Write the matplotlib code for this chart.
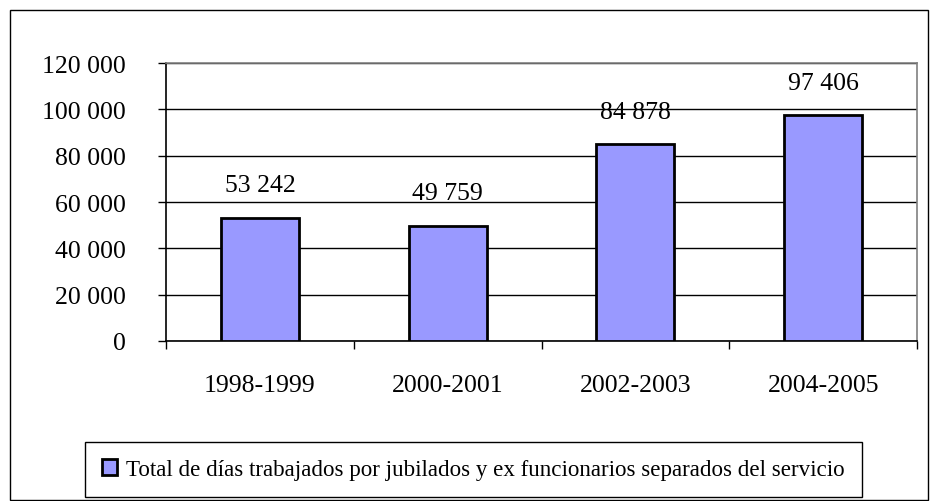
import matplotlib
matplotlib.use('Agg')
import matplotlib.pyplot as plt
from matplotlib.patches import Rectangle, Patch
from matplotlib.ticker import FuncFormatter

periods = ['1998-1999', '2000-2001', '2002-2003', '2004-2005']
days_worked = [53242, 49759, 84878, 97406]
series_label = 'Total de días trabajados por jubilados y ex funcionarios separados del servicio'
y_ticks = [0, 20000, 40000, 60000, 80000, 100000, 120000]

bar_color = '#9999FF'

plt.rcParams['font.family'] = ['Liberation Serif', 'DejaVu Serif']

W, H = 930, 502
fig = plt.figure(figsize=(W / 100, H / 100), dpi=100)

# chart outer border
fig.patches.append(Rectangle((10 / W, 1 / H), 918 / W, 490 / H, transform=fig.transFigure,
                             fill=False, edgecolor='black', linewidth=1.0))

ax = fig.add_axes([166 / W, (H - 342) / H, (917 - 166) / W, (342 - 64) / H])

def fmt(v):
    return f'{int(v):,}'.replace(',', ' ')

x = list(range(len(periods)))
ax.bar(x, days_worked, width=0.416, color=bar_color, edgecolor='black',
       linewidth=2.0, zorder=3)

for xi, v in zip(x, days_worked):
    ax.annotate(fmt(v), (xi, v), xytext=(0, 15.5), textcoords='offset points',
                ha='center', va='bottom', fontsize=18.5)

ax.set_xlim(-0.5, len(periods) - 0.5)
ax.set_ylim(0, 120000)
ax.set_yticks(y_ticks)
ax.yaxis.set_major_formatter(FuncFormatter(lambda v, p: fmt(v)))
ax.tick_params(axis='y', direction='out', length=6, width=1, pad=23, labelsize=18.5)

ax.set_xticks([i - 0.5 for i in range(len(periods) + 1)])
ax.set_xticklabels([])
ax.set_xticks(x, minor=True)
ax.set_xticklabels(periods, minor=True)
ax.tick_params(axis='x', which='major', direction='out', length=6, width=1)
ax.tick_params(axis='x', which='minor', length=0, pad=24, labelsize=18.5)

ax.yaxis.grid(True, color='black', linewidth=1.0, zorder=0)
ax.set_axisbelow(True)

ax.spines['left'].set_color('black')
ax.spines['bottom'].set_color('black')
ax.spines['top'].set_color('#808080')
ax.spines['right'].set_color('#808080')
for s in ax.spines.values():
    s.set_linewidth(1.2)

handle = Patch(facecolor=bar_color, edgecolor='black', linewidth=2.0)
leg = fig.legend([handle], [series_label], loc='center',
                 bbox_to_anchor=((84 + 863) / 2 / W, (H - 470.5) / H),
                 fontsize=16.6, frameon=True, fancybox=False, framealpha=1,
                 edgecolor='black', handlelength=0.65, handleheight=0.65,
                 handletextpad=0.4, borderpad=0.75, borderaxespad=0)
leg.get_frame().set_linewidth(1.0)

fig.savefig('out.png', dpi=100)
